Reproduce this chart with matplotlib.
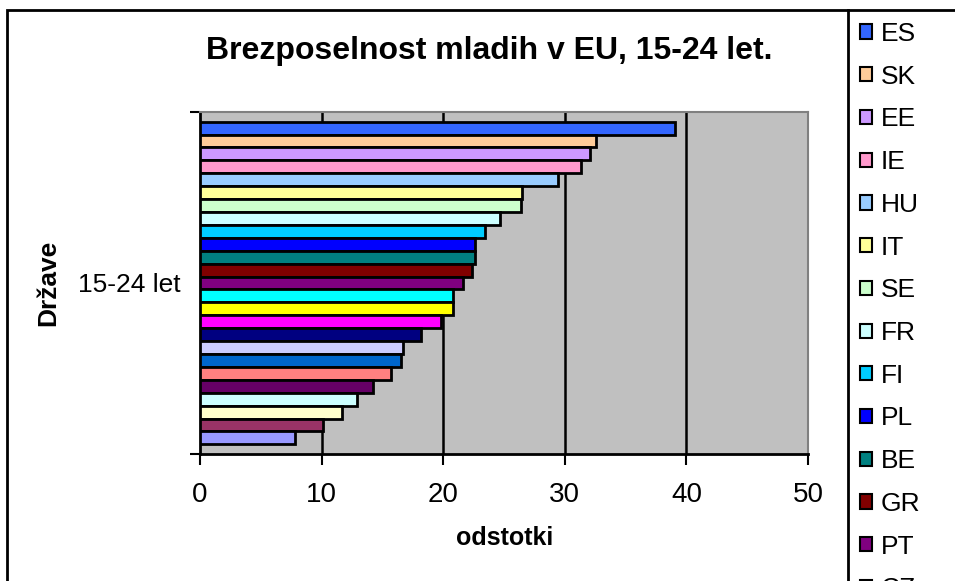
# Youth unemployment in the EU (15-24) - horizontal bar chart, Excel look
import matplotlib
matplotlib.use("Agg")
import numpy as np
import matplotlib.pyplot as plt
from matplotlib.patches import Patch, Rectangle
from matplotlib.lines import Line2D

# data, top bar first
countries = ["ES", "SK", "EE", "IE", "HU", "IT", "SE", "FR", "FI", "PL", "BE", "GR", "PT",
             "CZ", "RO", "LU", "UK", "LV", "LT", "SI", "MT", "DE", "DK", "AT", "NL"]
values = [39.1, 32.6, 32.1, 31.3, 29.4, 26.5, 26.4, 24.7, 23.4, 22.6, 22.6, 22.4, 21.6,
          20.8, 20.8, 19.8, 18.2, 16.7, 16.5, 15.7, 14.2, 12.9, 11.7, 10.1, 7.8]
colors = ["#3366FF", "#FFCC99", "#CC99FF", "#FF99CC", "#99CCFF", "#FFFF99", "#CCFFCC",
          "#CCFFFF", "#00CCFF", "#0000FF", "#008080", "#800000", "#800080", "#00FFFF",
          "#FFFF00", "#FF00FF", "#000080", "#CCCCFF", "#0066CC", "#FF8080", "#660066",
          "#CCFFFF", "#FFFFCC", "#993366", "#9999FF"]
category = "15-24 let"
xticks = [0, 10, 20, 30, 40, 50]

W, H = 955, 581
fig = plt.figure(figsize=(W / 100, H / 100), dpi=100)
plt.rcParams['font.family'] = ['Liberation Sans', 'DejaVu Sans']


def fx(px):
    return px / W


def fy(py):
    return 1 - py / H


# chart area border (runs off the right/bottom edge like the screenshot)
fig.patches.append(Rectangle((fx(7), fy(700)), fx(1100), fy(10) - fy(700),
                             transform=fig.transFigure, fill=False,
                             edgecolor="black", linewidth=2))
# legend box left edge, the rest of the box is off the picture
fig.add_artist(Line2D([fx(848), fx(848)], [fy(10), fy(600)], color="black", linewidth=2))

ax = fig.add_axes([fx(200), fy(454), fx(808) - fx(200), fy(112) - fy(454)])
ax.set_facecolor("#C0C0C0")

n = len(values)
pos = np.arange(n)[::-1]
ax.barh(pos, values, height=1.0, color=colors, edgecolor="black", linewidth=2, zorder=3)

ax.set_xlim(0, 50)
ax.set_ylim(-1.25, n - 1 + 1.25)
ax.set_xticks(xticks)
ax.set_xticklabels([str(t) for t in xticks], fontsize=20)
ax.tick_params(axis="x", length=8, width=1.5, pad=12)
for t in xticks[1:-1]:
    ax.axvline(t, color="black", linewidth=1.8, zorder=2)

# y ticks only at the ends, category label in the middle
ax.set_yticks([-1.25, n - 1 + 1.25])
ax.set_yticklabels(["", ""])
ax.tick_params(axis="y", length=7, width=1.5)
ax.set_yticks([(n - 1) / 2], minor=True)
ax.set_yticklabels([category], minor=True, fontsize=19)
ax.tick_params(axis="y", which="minor", length=0, pad=14)

ax.spines["left"].set_linewidth(2)
ax.spines["bottom"].set_linewidth(2)
ax.spines["top"].set_color("#808080")
ax.spines["right"].set_color("#808080")
ax.spines["top"].set_linewidth(1.5)
ax.spines["right"].set_linewidth(1.5)

fig.text(fx(489), fy(51), "Brezposelnost mladih v EU, 15-24 let.", ha="center", va="center",
         fontsize=23, fontweight="bold")
fig.text(fx(48), fy(283), "Države", rotation=90, ha="center", va="center",
         fontsize=19, fontweight="bold")
fig.text(fx(505), fy(538), "odstotki", ha="center", va="center",
         fontsize=18, fontweight="bold")

handles = [Patch(facecolor=c, edgecolor="black", linewidth=1.5) for c in colors]
fig.legend(handles, countries, loc="upper left", bbox_to_anchor=(fx(848), fy(10)),
           frameon=False, fontsize=19,
           handlelength=0.45, handleheight=0.45, handletextpad=0.35,
           labelspacing=0.71, borderpad=0.45, borderaxespad=0)

fig.savefig("out.png", dpi=100)
